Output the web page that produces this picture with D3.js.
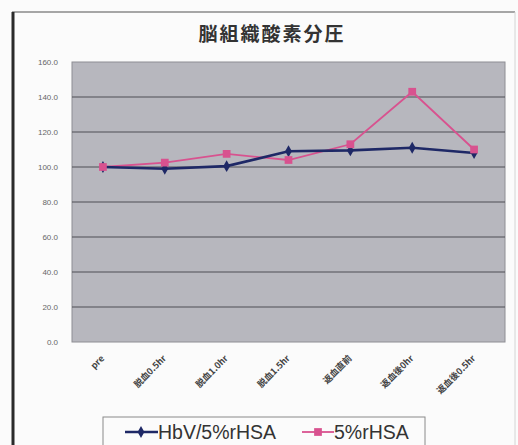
<!DOCTYPE html>
<html>
<head>
<meta charset="utf-8">
<script src="https://cdn.jsdelivr.net/npm/d3@7"></script>
<style>
  html, body { margin: 0; padding: 0; background: #fbfbfb; }
  svg { display: block; }
</style>
</head>
<body>
<svg id="chart" width="518" height="445"></svg>
<script>
// Categories (time points) and series values
const categories = ["pre", "脱血0.5hr", "脱血1.0hr", "脱血1.5hr", "返血直前", "返血後0hr", "返血後0.5hr"];
const hbvValues  = [100, 99, 100.5, 109, 109.5, 111, 108];
const rhsaValues = [100, 102.5, 107.5, 104, 113, 143, 110];
const yTicks     = [0, 20, 40, 60, 80, 100, 120, 140, 160];
const seriesNames = ["HbV/5%rHSA", "5%rHSA"];

const svg = d3.select("#chart");
const W = 518, H = 445;
const plot = { left: 72, right: 505, top: 62, bottom: 342 };

// Outer frame
svg.append("rect").attr("x", 0).attr("y", 0).attr("width", W).attr("height", H).attr("fill", "#fbfbfb");
svg.append("line").attr("x1", 12).attr("x2", 515).attr("y1", 12).attr("y2", 12)
  .attr("stroke", "#8a8a8a").attr("stroke-width", 1.5);
svg.append("line").attr("x1", 13).attr("x2", 13).attr("y1", 12).attr("y2", H)
  .attr("stroke", "#2a2a2a").attr("stroke-width", 3);
svg.append("line").attr("x1", 515).attr("x2", 515).attr("y1", 12).attr("y2", H)
  .attr("stroke", "#d4d4d4").attr("stroke-width", 1);

// Title
svg.append("text").attr("x", 272).attr("y", 41).attr("text-anchor", "middle")
  .attr("font-family", "Noto Sans CJK JP").attr("font-weight", "bold").attr("font-size", 19)
  .attr("letter-spacing", 2).attr("fill", "#333").text("脳組織酸素分圧");

const x = d3.scaleBand().domain(categories).range([plot.left, plot.right]);
const y = d3.scaleLinear().domain([0, 160]).range([plot.bottom, plot.top]);

// Plot background
svg.append("rect").attr("x", plot.left).attr("y", plot.top)
  .attr("width", plot.right - plot.left).attr("height", plot.bottom - plot.top)
  .attr("fill", "#b7b7be").attr("stroke", "#8e8e94").attr("stroke-width", 1);

// Gridlines
svg.append("g").selectAll("line").data(yTicks.filter(d => d > 0 && d < 160)).join("line")
  .attr("x1", plot.left).attr("x2", plot.right)
  .attr("y1", d => y(d)).attr("y2", d => y(d))
  .attr("stroke", "#4e4e55").attr("stroke-width", 1.2);

// Y axis labels
const yAxis = d3.axisLeft(y).tickValues(yTicks).tickFormat(d3.format(".1f")).tickSize(0).tickPadding(14);
const gy = svg.append("g").attr("transform", `translate(${plot.left},0)`).call(yAxis);
gy.select(".domain").remove();
gy.selectAll("text").attr("font-family", "Liberation Sans").attr("font-size", 8).attr("fill", "#666");

// X axis labels (rotated)
const xAxis = d3.axisBottom(x).tickSize(0);
const gx = svg.append("g").attr("transform", `translate(0,${plot.bottom})`).call(xAxis);
gx.select(".domain").remove();
gx.selectAll("text")
  .attr("font-family", "Noto Sans CJK JP").attr("font-weight", "bold").attr("font-size", 9).attr("fill", "#444")
  .attr("text-anchor", "end").attr("dy", 0).attr("y", 0)
  .attr("transform", "translate(2,17) rotate(-45)");

// Lines and markers
const line = d3.line().x((d, i) => x(categories[i]) + x.bandwidth() / 2).y(d => y(d));
const blue = "#1e2866", pink = "#d8528f";

svg.append("path").datum(rhsaValues).attr("d", line).attr("fill", "none")
  .attr("stroke", pink).attr("stroke-width", 1.8);
svg.append("path").datum(hbvValues).attr("d", line).attr("fill", "none")
  .attr("stroke", blue).attr("stroke-width", 2.6);

const diamond = d3.symbol().type(d3.symbolDiamond).size(40);
const square = d3.symbol().type(d3.symbolSquare).size(60);

svg.append("g").selectAll("path").data(hbvValues).join("path")
  .attr("d", diamond)
  .attr("transform", (d, i) => `translate(${x(categories[i]) + x.bandwidth() / 2},${y(d)})`)
  .attr("fill", blue);
svg.append("g").selectAll("path").data(rhsaValues).join("path")
  .attr("d", square)
  .attr("transform", (d, i) => `translate(${x(categories[i]) + x.bandwidth() / 2},${y(d)})`)
  .attr("fill", pink);

// Legend
const lg = svg.append("g");
lg.append("rect").attr("x", 103).attr("y", 417).attr("width", 322).attr("height", 32)
  .attr("fill", "#fbfbfb").attr("stroke", "#8a8a8a").attr("stroke-width", 1);
lg.append("line").attr("x1", 125).attr("x2", 158).attr("y1", 432).attr("y2", 432)
  .attr("stroke", blue).attr("stroke-width", 2.6);
lg.append("path").attr("d", diamond).attr("transform", "translate(141,432)").attr("fill", blue);
lg.append("text").attr("x", 158).attr("y", 439).attr("font-family", "Liberation Sans")
  .attr("font-size", 19.5).attr("fill", "#333").text(seriesNames[0]);
lg.append("line").attr("x1", 302).attr("x2", 334).attr("y1", 432).attr("y2", 432)
  .attr("stroke", pink).attr("stroke-width", 1.8);
lg.append("path").attr("d", square).attr("transform", "translate(318,432)").attr("fill", pink);
lg.append("text").attr("x", 334).attr("y", 439).attr("font-family", "Liberation Sans")
  .attr("font-size", 19.5).attr("fill", "#333").text(seriesNames[1]);
</script>
</body>
</html>
